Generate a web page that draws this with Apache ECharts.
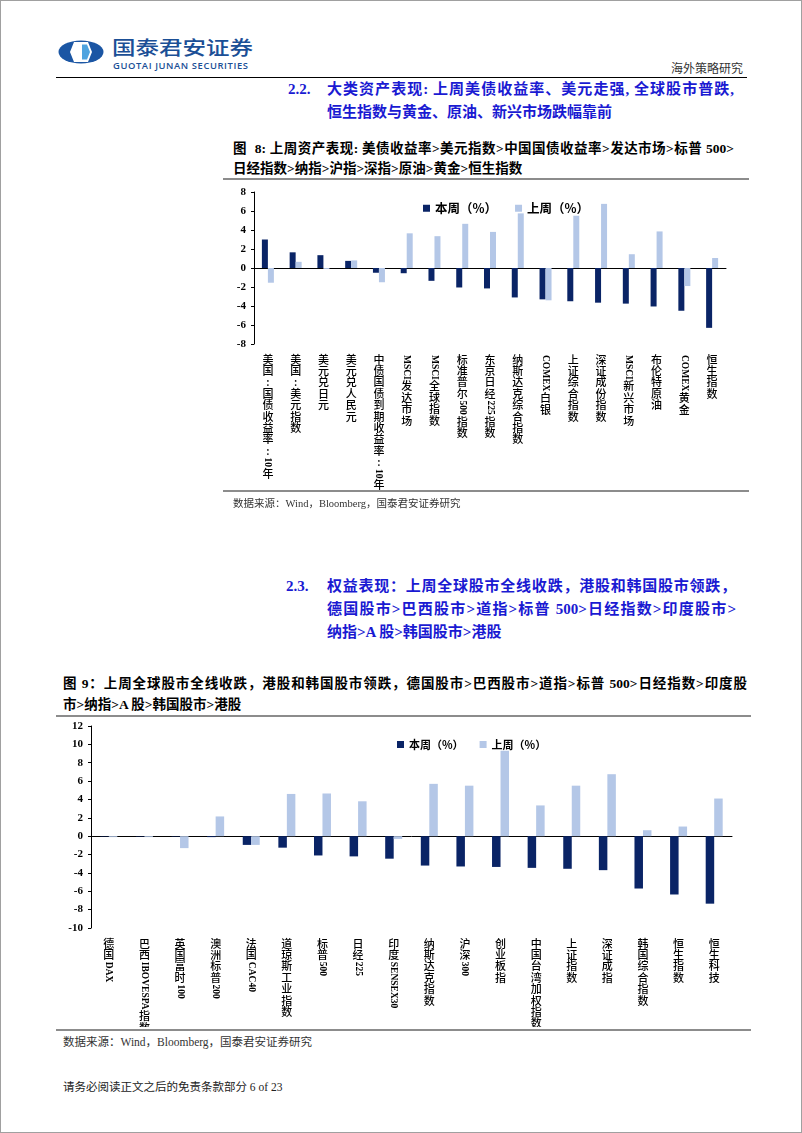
<!DOCTYPE html>
<html>
<head>
<meta charset="utf-8">
<script src="https://cdn.jsdelivr.net/npm/echarts@6/dist/echarts.min.js"></script>
<style>
body { margin: 0; background: #fff; }
#page { position: relative; width: 800px; height: 1131px; border: 1px solid #a0a0a0; overflow: hidden;
  font-family: "Liberation Serif", "Noto Sans CJK SC", serif; color: #000; }
.t { position: absolute; white-space: nowrap; line-height: 1; }
.j { text-align: justify; text-align-last: justify; }
.blue { color: #1a1ad2; font-weight: bold; font-size: 15px; }
.cap { font-weight: bold; font-size: 13.5px; }
.src { color: #333; }
.ln { position: absolute; height: 0; }
.chart { position: absolute; left: 0; width: 802px; }
</style>
</head>
<body>
<div id="page">
  <svg style="position:absolute;left:57px;top:39px" width="46" height="24" viewBox="0 0 46 24">
    <ellipse cx="23" cy="12" rx="22.5" ry="11.5" fill="#1b56a4"/>
    <polygon points="16,2 30,2 34,12 30,22 16,22 12,12" fill="#fff"/>
    <polygon points="24,4.5 29,4.5 32,12 29,19.5 24,19.5" fill="#4ea3df"/>
  </svg>
  <div class="t" style="left:111px;top:37px;font-size:23.5px;color:#1b4f96;font-family:'Noto Sans CJK SC';font-weight:500;transform:scale(1,0.82);transform-origin:0 0;">国泰君安证券</div>
  <div class="t" style="left:112px;top:60px;font-size:9.4px;color:#1b4f96;font-family:'Open Sans';font-weight:600;letter-spacing:0.6px;">GUOTAI JUNAN SECURITIES</div>
  <div class="t" style="left:670px;top:62px;font-size:12px;color:#333;">海外策略研究</div>
  <div class="ln" style="left:55px;top:76px;width:691px;border-top:1.5px solid #000;"></div>

  <div class="t blue" style="left:287px;top:81px;">2.2.</div>
  <div class="t blue j" style="left:326px;top:81px;width:407px;">大类资产表现: 上周美债收益率、美元走强, 全球股市普跌,</div>
  <div class="t blue" style="left:326px;top:104px;">恒生指数与黄金、原油、新兴市场跌幅靠前</div>

  <div class="t cap j" style="left:232px;top:141px;width:501px;">图&nbsp; 8: 上周资产表现: 美债收益率&gt;美元指数&gt;中国国债收益率&gt;发达市场&gt;标普 500&gt;</div>
  <div class="t cap" style="left:232px;top:161px;">日经指数&gt;纳指&gt;沪指&gt;深指&gt;原油&gt;黄金&gt;恒生指数</div>
  <div class="ln" style="left:222px;top:177px;width:526px;border-top:2px solid #8c8c8c;"></div>

  <div id="chart1" class="chart" style="top:180px;height:320px;"></div>

  <div class="ln" style="left:222px;top:489px;width:526px;border-top:2px solid #8c8c8c;"></div>
  <div class="t src" style="left:232px;top:498px;font-size:10.5px;">数据来源：Wind，Bloomberg，国泰君安证券研究</div>

  <div class="t blue" style="left:285px;top:578px;">2.3.</div>
  <div class="t blue j" style="left:326px;top:578px;width:409px;">权益表现：上周全球股市全线收跌，港股和韩国股市领跌，</div>
  <div class="t blue j" style="left:326px;top:601px;width:409px;">德国股市&gt;巴西股市&gt;道指&gt;标普 500&gt;日经指数&gt;印度股市&gt;</div>
  <div class="t blue" style="left:326px;top:624px;">纳指&gt;A 股&gt;韩国股市&gt;港股</div>

  <div class="t cap j" style="left:62px;top:676px;width:684px;">图 9：上周全球股市全线收跌，港股和韩国股市领跌，德国股市&gt;巴西股市&gt;道指&gt;标普 500&gt;日经指数&gt;印度股</div>
  <div class="t cap" style="left:62px;top:697px;">市&gt;纳指&gt;A 股&gt;韩国股市&gt;港股</div>
  <div class="ln" style="left:55px;top:714px;width:695px;border-top:2px solid #8c8c8c;"></div>

  <div id="chart2" class="chart" style="top:716px;height:310px;"></div>

  <div class="ln" style="left:55px;top:1028px;width:695px;border-top:2px solid #8c8c8c;"></div>
  <div class="t src" style="left:62px;top:1036px;font-size:11.5px;">数据来源：Wind，Bloomberg，国泰君安证券研究</div>
  <div class="t src" style="left:62px;top:1081px;font-size:11.5px;color:#222;">请务必阅读正文之后的免责条款部分 6 of 23</div>
</div>
<script>
// 图8 大类资产
var assetNames = ["美国:国债收益率:10年", "美国:美元指数", "美元兑日元", "美元兑人民元", "中债国债到期收益率:10年",
  "MSCI发达市场", "MSCI全球指数", "标准普尔500指数", "东京日经225指数", "纳斯达克综合指数", "COMEX白银",
  "上证综合指数", "深证成份指数", "MSCI新兴市场", "布伦特原油", "COMEX黄金", "恒生指数"];
var assetThisWeek = [3.0, 1.65, 1.35, 0.75, -0.5, -0.55, -1.35, -2.05, -2.15, -3.1, -3.3, -3.5, -3.65, -3.75, -4.05, -4.5, -6.3];
var assetLastWeek = [-1.55, 0.65, -0.1, 0.8, -1.5, 3.65, 3.35, 4.65, 3.8, 5.75, -3.4, 5.5, 6.75, 1.45, 3.85, -1.9, 1.05];

// 图9 全球股市
var equityNames = ["德国DAX", "巴西IBOVESPA指数", "英国富时100", "澳洲标普200", "法国CAC40", "道琼斯工业指数",
  "标普500", "日经225", "印度SENSEX30", "纳斯达克指数", "沪深300", "创业板指", "中国台湾加权指数",
  "上证指数", "深证成指", "韩国综合指数", "恒生指数", "恒生科技"];
var equityThisWeek = [-0.05, -0.05, -0.05, -0.1, -0.95, -1.25, -2.1, -2.2, -2.45, -3.2, -3.3, -3.35, -3.45, -3.55, -3.7, -5.7, -6.35, -7.35];
var equityLastWeek = [-0.1, -0.1, -1.3, 2.15, -0.95, 4.6, 4.65, 3.8, -0.3, 5.7, 5.5, 9.3, 3.35, 5.5, 6.75, 0.65, 1.05, 4.1];

var seriesNames = ["本周（%）", "上周（%）"];
var darkBlue = "#0a2466";
var lightBlue = "#b4c7e7";
var numFont = "'Liberation Serif'";
var cjkFamily = "'Noto Sans CJK SC'";

function buildOption(cats, cur, prev, cfg) {
  var axisColor = { color: "#000", width: 1 };
  return {
    animation: false,
    legend: {
      left: cfg.legendLeft, top: cfg.legendTop, icon: "rect", itemWidth: 7, itemHeight: 7, itemGap: cfg.legendGap,
      textStyle: { fontSize: cfg.legendSize, color: "#000", fontWeight: "bold", fontFamily: cjkFamily },
      data: seriesNames
    },
    grid: cfg.grid,
    xAxis: {
      type: "category", data: cats,
      axisLine: { lineStyle: axisColor },
      axisTick: { length: 4, lineStyle: axisColor },
      axisLabel: { show: false }
    },
    yAxis: {
      type: "value", min: cfg.min, max: cfg.max, interval: 2,
      splitLine: { show: false },
      axisLine: { show: true, lineStyle: axisColor },
      axisTick: { show: true, length: 3, lineStyle: axisColor },
      axisLabel: { margin: 8, color: "#000", fontWeight: "bold", fontSize: 11, fontFamily: numFont }
    },
    series: [
      { name: seriesNames[0], type: "bar", data: cur, barWidth: cfg.barWidth, barGap: "0%", itemStyle: { color: darkBlue } },
      { name: seriesNames[1], type: "bar", data: prev, barWidth: cfg.barWidth, itemStyle: { color: lightBlue } }
    ]
  };
}

// vertical category labels: CJK stacked upright, latin runs turned 90 degrees
var meas = document.createElement("canvas").getContext("2d");
function verticalLabels(chart, cats, y0, lh, size) {
  var cjkFont = "500 " + size + "px " + cjkFamily;
  var latFont = "bold " + (size - 1.5) + "px " + numFont;
  meas.font = latFont;
  var els = [];
  cats.forEach(function (c, i) {
    var x = chart.convertToPixel({ xAxisIndex: 0 }, i);
    var y = y0;
    c.match(/[A-Za-z0-9.]+|./g).forEach(function (p) {
      if (/^[A-Za-z0-9.]+$/.test(p)) {
        els.push({ type: "text", x: x, y: y + 1, rotation: -Math.PI / 2, silent: true,
          style: { text: p, font: latFont, fill: "#000", textAlign: "left", textVerticalAlign: "middle", align: "left", verticalAlign: "middle" } });
        y += meas.measureText(p).width + 2;
      } else {
        els.push({ type: "text", x: x, y: y, silent: true,
          style: { text: p, font: cjkFont, fill: "#000", textAlign: "center", textVerticalAlign: "top", align: "center", verticalAlign: "top" } });
        y += lh;
      }
    });
  });
  chart.setOption({ graphic: els });
}

var chart1 = echarts.init(document.getElementById("chart1"));
chart1.setOption(buildOption(assetNames, assetThisWeek, assetLastWeek, {
  legendLeft: 417, legendTop: 16, legendGap: 18, legendSize: 12.5,
  grid: { left: 253, right: 77, top: 11, bottom: 157 },
  min: -8, max: 8, barWidth: 6
}));
verticalLabels(chart1, assetNames, 173, 11.4, 11);

var chart2 = echarts.init(document.getElementById("chart2"));
chart2.setOption(buildOption(equityNames, equityThisWeek, equityLastWeek, {
  legendLeft: 391, legendTop: 17, legendGap: 16, legendSize: 11,
  grid: { left: 90, right: 71, top: 9, bottom: 99 },
  min: -10, max: 12, barWidth: 8.5
}));
verticalLabels(chart2, equityNames, 221, 11.4, 11);
</script>
</body>
</html>
